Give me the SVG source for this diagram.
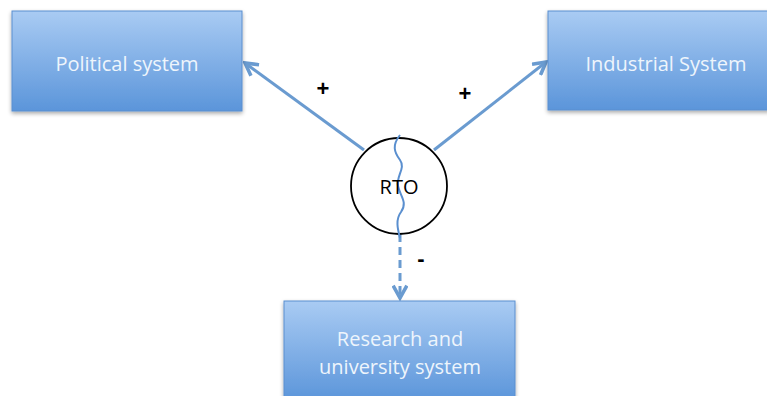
<svg xmlns="http://www.w3.org/2000/svg" width="767" height="396" viewBox="0 0 767 396">
  <defs>
    <linearGradient id="boxFill" x1="0" y1="0" x2="0" y2="1">
      <stop offset="0" stop-color="#a9cbf3"/>
      <stop offset="1" stop-color="#5b95da"/>
    </linearGradient>
    <filter id="shadow" x="-10%" y="-10%" width="120%" height="130%">
      <feGaussianBlur in="SourceAlpha" stdDeviation="2"/>
      <feOffset dx="0" dy="2" result="b"/>
      <feComponentTransfer><feFuncA type="linear" slope="0.35"/></feComponentTransfer>
      <feMerge><feMergeNode/><feMergeNode in="SourceGraphic"/></feMerge>
    </filter>
    <marker id="arrow" viewBox="0 0 12 12" refX="10" refY="6" markerWidth="5.5" markerHeight="5.5" orient="auto" markerUnits="strokeWidth">
      <path d="M1,1 L10,6 L1,11" fill="none" stroke="#6a9bd0" stroke-width="2.6"/>
    </marker>
  </defs>
  <style>
    .box { fill: url(#boxFill); stroke: #5a8fcf; stroke-width: 1; filter: url(#shadow); }
    .label { font-family: "Open Sans", "Liberation Sans", sans-serif; font-size: 20px; fill: #eef5fc; text-anchor: middle; }
    .edge { stroke: #6a9bd0; stroke-width: 3; fill: none; }
    .sign { font-family: "Liberation Sans", sans-serif; font-size: 22px; font-weight: bold; fill: #000; text-anchor: middle; }
  </style>

  <rect width="767" height="396" fill="#ffffff"/>

  <g id="connectors">
    <line class="edge" x1="364" y1="150" x2="245" y2="63" marker-end="url(#arrow)"/>
    <line class="edge" x1="434" y1="150" x2="546" y2="62" marker-end="url(#arrow)"/>
    <line class="edge" x1="400" y1="234" x2="400" y2="298" stroke-dasharray="8,5" marker-end="url(#arrow)"/>
    <text class="sign" x="323" y="96">+</text>
    <text class="sign" x="465" y="101">+</text>
    <text class="sign" x="421" y="266">-</text>
  </g>

  <g id="political">
    <rect class="box" x="12" y="11" width="230" height="100"/>
    <text class="label" x="127" y="71">Political system</text>
  </g>

  <g id="industrial">
    <rect class="box" x="548" y="11" width="222" height="99"/>
    <text class="label" x="666" y="71">Industrial System</text>
  </g>

  <g id="research">
    <rect class="box" x="284" y="301" width="231" height="100"/>
    <text class="label" x="400" y="346">Research and</text>
    <text class="label" x="400" y="374">university system</text>
  </g>

  <g id="rto">
    <circle cx="399" cy="186" r="48" fill="#ffffff" stroke="#000" stroke-width="1.8"/>
    <path d="M400,135 C392,145 394,152 400,160 C406,168 396,176 398,186 C400,196 408,202 401,212 C395,220 398,230 400,238" fill="none" stroke="#5a8fcf" stroke-width="2"/>
    <text x="399" y="194" font-family="'Open Sans', 'Liberation Sans', sans-serif" font-size="20" fill="#000" text-anchor="middle">RTO</text>
  </g>
</svg>
